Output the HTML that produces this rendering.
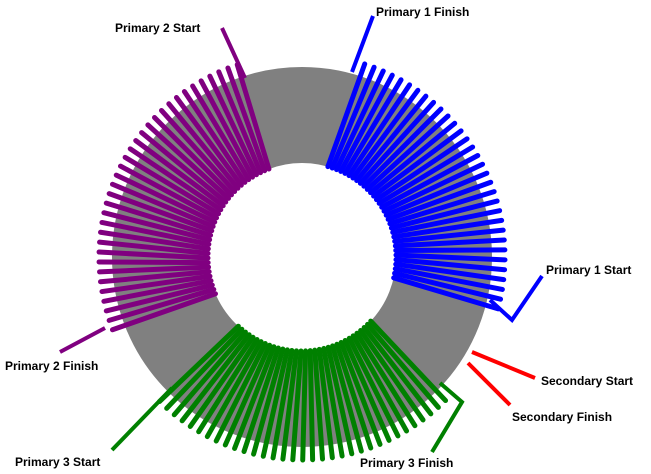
<!DOCTYPE html>
<html><head><meta charset="utf-8"><style>
html,body{margin:0;padding:0;background:#fff;}
svg{display:block}
text{font-family:"Liberation Sans",Arial,sans-serif;font-weight:bold;font-size:12px;fill:#000}
</style></head><body>
<svg id="s" width="651" height="474" viewBox="0 0 651 474" xmlns="http://www.w3.org/2000/svg">
<circle cx="302" cy="257" r="142" fill="none" stroke="#808080" stroke-width="96"/>
<g id="w" stroke-linecap="round" stroke-width="5"></g>
<g fill="none" stroke-width="4" stroke-linejoin="miter">
<polyline points="352,72 373,16" stroke="#0000ff"/>
<polyline points="245,78 222,28" stroke="#800080"/>
<polyline points="490,300 512,320 542,276" stroke="#0000ff"/>
<polyline points="105,328 60,352" stroke="#800080"/>
<polyline points="472,352 535,378" stroke="#ff0000"/>
<polyline points="468,363 510,405" stroke="#ff0000"/>
<polyline points="172,388 112,450" stroke="#008000"/>
<polyline points="440,383 462,402 432,452" stroke="#008000"/>
</g>
<text x="115" y="32">Primary 2 Start</text>
<text x="376" y="16">Primary 1 Finish</text>
<text x="546" y="274">Primary 1 Start</text>
<text x="5" y="370">Primary 2 Finish</text>
<text x="541" y="385">Secondary Start</text>
<text x="512" y="421">Secondary Finish</text>
<text x="15" y="466">Primary 3 Start</text>
<text x="360" y="467">Primary 3 Finish</text>
</svg>
<script>
(function(){
var g=document.getElementById('w'),ns='http://www.w3.org/2000/svg';
var cx=302,cy=257;
function band(a0,a1,col,step){
 for(var a=a0;a<=a1+0.01;a+=step){
  var ai=(a-1)*Math.PI/180, ao=(a+1)*Math.PI/180;
  var l=document.createElementNS(ns,'line');
  l.setAttribute('x1',cx+94*Math.cos(ai));l.setAttribute('y1',cy+94*Math.sin(ai));
  l.setAttribute('x2',cx+203*Math.cos(ao));l.setAttribute('y2',cy+203*Math.sin(ao));
  l.setAttribute('stroke',col);g.appendChild(l);
 }
}
band(-73,14,'#0000ff',2.8);
band(158,252,'#800080',2.8);
band(44,135,'#008000',2.8);
})();
</script>
</body></html>
